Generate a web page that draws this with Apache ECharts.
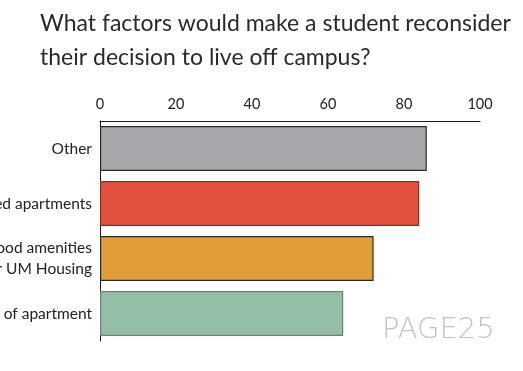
<!DOCTYPE html>
<html>
<head>
<meta charset="utf-8">
<style>
  html, body { margin: 0; padding: 0; background: #fff; }
  #chart { width: 523px; height: 371px; }
</style>
<script src="https://cdn.jsdelivr.net/npm/echarts@6/dist/echarts.min.js"></script>
</head>
<body>
<div id="chart"></div>
<script>
// Survey responses: share of students (%) naming each factor
const categories = [
  'Other',
  'Furnished apartments',
  'Neighborhood amenities\nnear UM Housing',
  'Cost of apartment'
];
const values = [86, 84, 72, 64];
const barColors = ['#a7a8ab', '#e3523f', '#e09d38', '#93bfa7'];
const barBorders = ['#2b2b2b', '#8a2e24', '#2b2b2b', '#6f7f76'];
const tickValues = [0, 20, 40, 60, 80, 100];

const chart = echarts.init(document.getElementById('chart'));
chart.setOption({
  animation: false,
  title: [{
    text: 'What factors would make a student reconsider\ntheir decision to live off campus?',
    left: 35,
    top: 2,
    textStyle: {
      fontFamily: 'Lato',
      fontWeight: 'normal',
      fontSize: 23,
      lineHeight: 34,
      color: '#2a2a2a'
    }
  }],
  graphic: [{
    type: 'text',
    left: 382,
    top: 316,
    style: {
      text: 'PAGE25',
      fontFamily: 'DejaVu Sans',
      fontWeight: 200,
      fontSize: 29,
      fill: '#c2c2c2'
    }
  }],
  grid: { left: 100, right: 43, top: 121, height: 220, outerBoundsMode: 'none', containLabel: false },
  xAxis: {
    type: 'value',
    position: 'top',
    min: 0,
    max: 100,
    interval: 20,
    axisLine: { show: true, lineStyle: { color: '#1a1a1a', width: 1 } },
    axisTick: { show: false },
    splitLine: { show: false },
    axisLabel: {
      margin: 9,
      fontFamily: 'Lato',
      fontSize: 14.5,
      color: '#222',
      formatter: v => tickValues.includes(v) ? String(v) : ''
    }
  },
  yAxis: {
    type: 'category',
    data: categories,
    inverse: true,
    axisLine: { show: true, lineStyle: { color: '#1a1a1a', width: 1 } },
    axisTick: { show: false },
    axisLabel: {
      margin: 8,
      fontFamily: 'Lato',
      fontSize: 15.5,
      lineHeight: 21,
      color: '#222',
      align: 'right'
    }
  },
  series: [{
    type: 'bar',
    barWidth: 45,
    data: values.map((v, i) => ({
      value: v,
      itemStyle: { color: barColors[i], borderColor: barBorders[i], borderWidth: 1.2 }
    }))
  }]
});
</script>
</body>
</html>
